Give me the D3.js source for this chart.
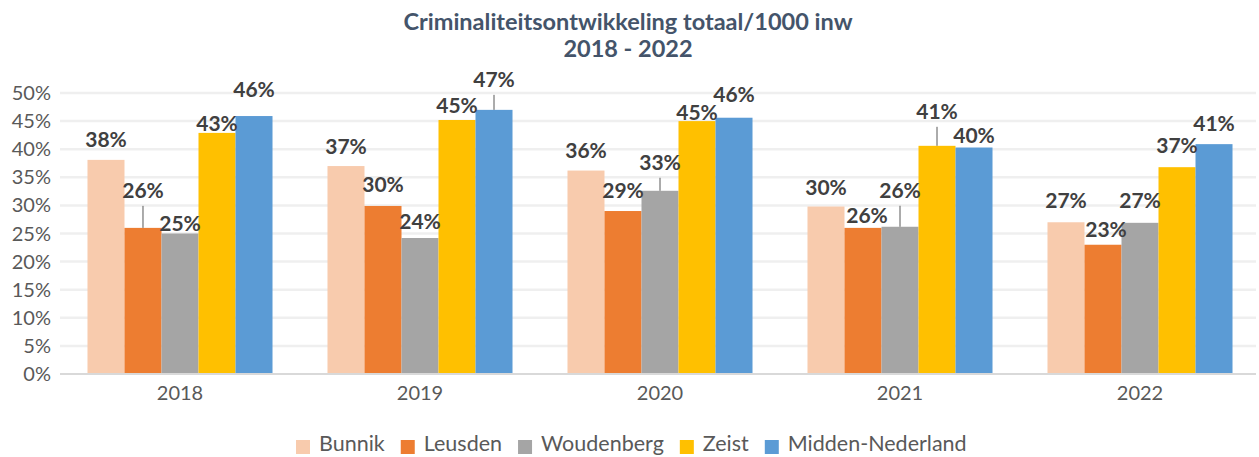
<!DOCTYPE html>
<html>
<head>
<meta charset="utf-8">
<script src="https://cdn.jsdelivr.net/npm/d3@7"></script>
<style>
  body { margin: 0; background: #fff; }
  text { font-family: Lato, "Open Sans", sans-serif; }
</style>
</head>
<body>
<div id="chart"></div>
<script>
var years = ["2018", "2019", "2020", "2021", "2022"];
var series = ["Bunnik", "Leusden", "Woudenberg", "Zeist", "Midden-Nederland"];
var colors = ["#F8CBAD", "#ED7D31", "#A5A5A5", "#FFC000", "#5B9BD5"];

// values per series, one per year (fractions)
var bunnik = [0.381, 0.370, 0.362, 0.298, 0.270];
var leusden = [0.260, 0.299, 0.290, 0.260, 0.230];
var woudenberg = [0.250, 0.242, 0.326, 0.262, 0.269];
var zeist = [0.429, 0.452, 0.450, 0.406, 0.368];
var midden = [0.459, 0.470, 0.456, 0.403, 0.409];
var values = [bunnik, leusden, woudenberg, zeist, midden];

var yTicks = [0, 0.05, 0.1, 0.15, 0.2, 0.25, 0.3, 0.35, 0.4, 0.45, 0.5];

// label gap above the bar (px) and horizontal nudge, per series per year
var labelGap = [
  [13, 12, 13, 12, 14],
  [30, 14, 13, 5, 8],
  [3, 9, 21, 29, 15],
  [2, 7, 1, 27, 14],
  [19, 23, 16, 5, 13]
];
var labelDx = [
  [0, 0, 0, 0, 0],
  [0, 0, 0, 4, 3],
  [0, 0, 0, 0, 0],
  [0, 0, 0, 0, 0],
  [0, 0, 0, 0, 0]
];

function init() {
  var w = 1259, h = 457;
  var left = 60, right = 1260, top = 93, bottom = 374;

  var svg = d3.select("#chart").append("svg")
    .attr("width", w).attr("height", h);

  var x0 = d3.scaleBand().domain(years).range([left, right]);
  var x1 = d3.scaleBand().domain(series).range([0, x0.bandwidth()])
    .paddingInner(0).paddingOuter(0.743);
  var y = d3.scaleLinear().domain([0, 0.5]).range([bottom, top]);

  // title
  var title = svg.append("text")
    .attr("text-anchor", "middle")
    .attr("fill", "#44546A").attr("font-weight", "bold").attr("font-size", "23.5px");
  title.append("tspan").attr("x", 628).attr("y", 30).text("Criminaliteitsontwikkeling totaal/1000 inw");
  title.append("tspan").attr("x", 628).attr("y", 57).text("2018 - 2022");

  // grid lines
  svg.append("g").selectAll("line")
    .data(yTicks.slice(1))
    .enter().append("line")
    .attr("x1", left).attr("x2", right - 4)
    .attr("y1", function(d) { return y(d); })
    .attr("y2", function(d) { return y(d); })
    .attr("stroke", "#EFEFEF").attr("stroke-width", 2.5);

  // y axis labels
  svg.append("g").selectAll("text")
    .data(yTicks)
    .enter().append("text")
    .attr("x", 51)
    .attr("y", function(d) { return y(d) + 7; })
    .attr("text-anchor", "end")
    .attr("font-size", "20px").attr("fill", "#595959")
    .text(d3.format(".0%"));

  // bars
  var groups = svg.append("g").selectAll("g")
    .data(years)
    .enter().append("g")
    .attr("transform", function(d) { return "translate(" + x0(d) + ",0)"; });

  groups.selectAll("rect")
    .data(function(d, yi) {
      return series.map(function(s, si) { return { s: s, si: si, yi: yi, v: values[si][yi] }; });
    })
    .enter().append("rect")
    .attr("x", function(d) { return x1(d.s); })
    .attr("width", x1.bandwidth())
    .attr("y", function(d) { return y(d.v); })
    .attr("height", function(d) { return bottom - y(d.v); })
    .attr("fill", function(d) { return colors[d.si]; });

  // baseline
  svg.append("line")
    .attr("x1", left).attr("x2", right - 4)
    .attr("y1", bottom).attr("y2", bottom)
    .attr("stroke", "#D9D9D9").attr("stroke-width", 2);

  // data labels
  var labels = groups.selectAll("g.lbl")
    .data(function(d, yi) {
      return series.map(function(s, si) { return { s: s, si: si, yi: yi, v: values[si][yi] }; });
    })
    .enter().append("g").attr("class", "lbl");

  labels.append("text")
    .attr("x", function(d) { return x1(d.s) + x1.bandwidth() / 2 + labelDx[d.si][d.yi]; })
    .attr("y", function(d) { return y(d.v) - labelGap[d.si][d.yi]; })
    .attr("text-anchor", "middle")
    .attr("font-size", "21px").attr("font-weight", "bold").attr("fill", "#404040")
    .text(function(d) { return d3.format(".0%")(d.v); });

  // leader lines for labels pushed far from their bar
  labels.filter(function(d) { return labelGap[d.si][d.yi] > 20; })
    .append("line")
    .attr("x1", function(d) { return x1(d.s) + x1.bandwidth() / 2; })
    .attr("x2", function(d) { return x1(d.s) + x1.bandwidth() / 2; })
    .attr("y1", function(d) { return y(d.v) - labelGap[d.si][d.yi] + 8; })
    .attr("y2", function(d) { return y(d.v); })
    .attr("stroke", "#595959").attr("stroke-width", 1);

  // x axis labels
  svg.append("g").selectAll("text")
    .data(years)
    .enter().append("text")
    .attr("x", function(d) { return x0(d) + x0.bandwidth() / 2; })
    .attr("y", 400)
    .attr("text-anchor", "middle")
    .attr("font-size", "20px").attr("fill", "#595959")
    .text(function(d) { return d; });

  // legend
  var legend = svg.append("g");
  var lx = 296;
  series.forEach(function(s, i) {
    var item = legend.append("g").attr("transform", "translate(" + lx + ",0)");
    item.append("rect").attr("x", 0).attr("y", 440).attr("width", 14).attr("height", 14)
      .attr("fill", colors[i]);
    var t = item.append("text").attr("x", 23).attr("y", 451)
      .attr("font-size", "21.5px").attr("fill", "#595959").text(s);
    lx += 23 + t.node().getComputedTextLength() + 16;
  });
}

window.onload = init;
</script>
</body>
</html>
